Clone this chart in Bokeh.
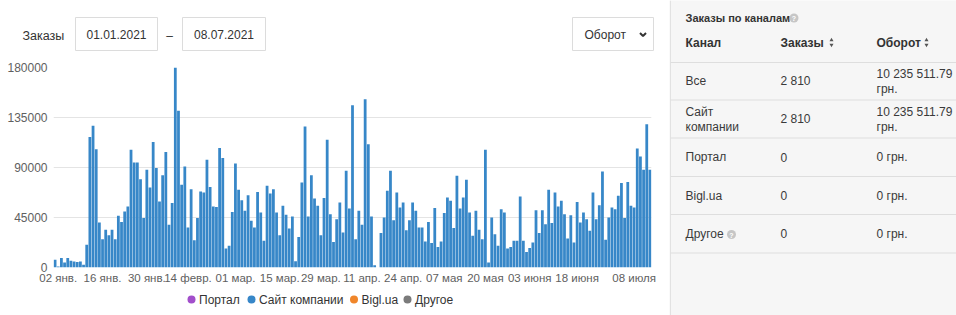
import datetime as dt
from bokeh.plotting import figure
from bokeh.models import Range1d, FixedTicker, NumeralTickFormatter
from bokeh.layouts import row, column
from bokeh.embed import file_html
from bokeh.resources import INLINE
from bokeh.core.properties import value

# ---------------- data ----------------
# one bar per reported day (days without a bar are absent from the category list)
missing_days = ["2021-02-06", "2021-02-07", "2021-03-28", "2021-06-26", "2021-06-27"]
first_day, last_day = "2021-01-01", "2021-07-13"
revenue = [
    7000, 1000, 8500, 4500, 8500, 6000, 5500, 5000, 5500, 2500,
    20500,
    117500, 127500, 106500, 40500, 25500, 34000, 29000, 34000, 25500, 46500,
    41000, 50500, 55000, 106000, 94500, 94500, 79500, 44500, 88000, 72000,
    113000, 89500, 59500, 83000, 104000, 38500, 58000,
    180000,
    141000, 74500, 91000, 36000, 70500, 24500, 44500, 68500, 67500, 97000,
    72500, 55000, 54500, 107500, 98500, 17000, 19500, 50000, 93500, 70000,
    60500, 51000, 65000, 42000, 36000, 68000, 49500, 24000, 73500, 66500,
    70500, 49500, 29000, 55500, 47500, 35000, 46000, 5700, 27500, 76500,
    127000, 46000, 83000, 62000, 55500, 29000, 62500, 115000, 48000, 23000,
    43500, 58500, 31500, 87000, 53000,
    146000, 25500, 51000, 38500,
    151500, 111000, 46000, 2000, 0,
    31000, 45000, 69000, 87000, 42500, 67500, 54000, 58500, 33500, 42500,
    58500, 51000, 36000, 36000, 23500, 41000, 22000, 53500, 18500, 23500,
    49000, 63000, 60000, 35500, 82500, 53000, 63000, 79000, 49500, 28500,
    51000, 34000, 25500,
    106000, 4500, 45000, 30000, 19500,
    52500, 49500, 17000, 18500, 24000, 24000, 64000, 24000, 14000, 17500,
    22500, 51500, 31000, 51500, 39000, 70000, 40000, 67500, 55000, 60000,
    48000, 26000, 47000, 22500, 59000, 40500, 49500, 43500, 33000, 67500,
    43500, 56000, 86500, 25000, 45000, 54000, 52500, 64500, 76000, 44500,
    77000, 55500, 54000, 107000, 100000, 88000, 129000, 88000,
]
tick_dates = ["2021-01-02", "2021-01-16", "2021-01-30", "2021-02-14", "2021-03-01",
              "2021-03-15", "2021-03-29", "2021-04-11", "2021-04-24", "2021-05-07",
              "2021-05-20", "2021-06-03", "2021-06-18", "2021-07-08"]
tick_labels = ["02 янв.", "16 янв.", "30 янв.", "14 февр.", "01 мар.", "15 мар.",
               "29 мар.", "11 апр.", "24 апр.", "07 мая", "20 мая", "03 июня",
               "18 июня", "08 июля"]
y_ticks = [0, 45000, 90000, 135000, 180000]

series_names = ["Портал", "Сайт компании", "Bigl.ua", "Другое"]
series_colors = ["#a24fcb", "#3787c8", "#f0862a", "#7b7b7b"]

channels = ["Все", "Сайт компании", "Портал", "Bigl.ua", "Другое"]
orders = ["2 810", "2 810", "0", "0", "0"]
turnover = ["10 235 511.79 грн.", "10 235 511.79 грн.", "0 грн.", "0 грн.", "0 грн."]
table_title = "Заказы по каналам"
table_headers = ["Канал", "Заказы", "Оборот"]

page_title = "Заказы"
date_from = "01.01.2021"
date_to = "08.07.2021"
metric = "Оборот"

# categories (dates) of the bars
d0 = dt.date.fromisoformat(first_day)
d1 = dt.date.fromisoformat(last_day)
categories = []
d = d0
while d <= d1:
    if d.isoformat() not in missing_days:
        categories.append(d.isoformat())
    d += dt.timedelta(days=1)
assert len(categories) == len(revenue)

# ---------------- styles ----------------
FONT = "Liberation Sans"
TXT = "#333333"
LEFT_W, RIGHT_W = 669, 287
HEAD_H, CHART_H, LEG_H = 58, 232, 25
PANEL_BG = "#f6f6f6"
LINE = "#dedede"


def canvas(w, h, bg):
    f = figure(width=w, height=h, x_range=Range1d(0, w), y_range=Range1d(h, 0),
               x_axis_type=None, y_axis_type=None, toolbar_location=None,
               output_backend="svg", min_border=0, frame_align=False,
               background_fill_color=bg, border_fill_color=bg)
    f.outline_line_color = None
    f.grid.visible = False
    return f


def txt(f, x, y, s, size="12px", color=TXT, align="left", bold=False):
    f.text(x=[x], y=[y], text=[s], text_font=value(FONT), text_font_size=size,
           text_color=color, text_align=align, text_baseline="middle",
           text_font_style="bold" if bold else "normal")


def wrap(s, limit):
    if len(s) > limit and " " in s:
        i = s.rfind(" ")
        return [s[:i], s[i + 1:]]
    return [s]


# ---------------- header ----------------
head = canvas(LEFT_W, HEAD_H, "white")
txt(head, 22, 35, page_title, size="12.5px")
head.quad(left=[75, 182, 572], right=[157, 265, 653], top=[17, 17, 17], bottom=[50, 50, 50],
          fill_color="white", line_color="#dcdcdc", line_width=1)
txt(head, 116, 34, date_from, align="center")
txt(head, 169, 35, "–", align="center")
txt(head, 223.5, 34, date_to, align="center")
txt(head, 584, 34, metric)
head.line(x=[639.5, 642.5, 645.5], y=[32.5, 35.5, 32.5], line_color=TXT, line_width=2)

# ---------------- chart ----------------
n = len(categories)
tick_pos = [categories.index(t) for t in tick_dates]
p = figure(width=LEFT_W, height=CHART_H, x_range=Range1d(-0.5, n - 0.5),
           y_range=Range1d(0, 180000), toolbar_location=None, output_backend="svg",
           min_border_left=53, min_border_right=18, min_border_top=9, min_border_bottom=23,
           frame_align=False)
p.vbar(x=list(range(n)), top=revenue, width=0.88, fill_color=series_colors[1], line_color=None)
p.xaxis.ticker = FixedTicker(ticks=tick_pos)
p.xaxis.major_label_overrides = {t: l for t, l in zip(tick_pos, tick_labels)}
p.yaxis.ticker = FixedTicker(ticks=y_ticks)
p.yaxis.formatter = NumeralTickFormatter(format="0")
for ax in (p.xaxis, p.yaxis):
    ax.axis_line_color = None
    ax.major_tick_line_color = None
    ax.minor_tick_line_color = None
    ax.major_tick_out = 0
    ax.major_tick_in = 0
    ax.major_label_text_font = FONT
    ax.major_label_text_color = "#606060"
p.xaxis.major_label_text_font_size = "11.5px"
p.yaxis.major_label_text_font_size = "12px"
p.xaxis.major_label_standoff = 4
p.yaxis.major_label_standoff = 6
p.xgrid.grid_line_color = None
p.ygrid.grid_line_color = "#e4e4e4"
p.outline_line_color = None

# ---------------- legend ----------------
leg = canvas(LEFT_W, LEG_H, "white")
leg_x = [191, 251, 353.5, 407]
for name, col, lx in zip(series_names, series_colors, leg_x):
    leg.scatter(x=[lx], y=[9], size=8, marker="circle", fill_color=col, line_color=None)
    txt(leg, lx + 7.5, 9.5, name)

# ---------------- right table ----------------
H = HEAD_H + CHART_H + LEG_H
tb = canvas(RIGHT_W, H, PANEL_BG)
tb.line(x=[1, 1], y=[0, H], line_color="#e2e2e2", line_width=1)
col_x = [16, 111, 207]
txt(tb, col_x[0], 17, table_title, size="11px", bold=True)
tb.scatter(x=[124.5], y=[17.5], size=9, marker="circle", fill_color="#c6c6c6", line_color=None)
txt(tb, 124.5, 18, "?", size="7px", color="white", align="center", bold=True)
for hx, h in zip(col_x, table_headers):
    txt(tb, hx, 42, h, bold=True)
for sx in (162, 257):
    tb.scatter(x=[sx], y=[39.5], size=4, marker="triangle", fill_color="#555", line_color=None)
    tb.scatter(x=[sx], y=[44.5], size=4, marker="inverted_triangle", fill_color="#555", line_color=None)
row_edges = [62, 99.5, 137.5, 176, 214, 252.5]
tb.multi_line(xs=[[1, RIGHT_W]] * len(row_edges), ys=[[y, y] for y in row_edges],
              line_color=LINE, line_width=1)
for i, (ch, od, tv) in enumerate(zip(channels, orders, turnover)):
    cy = (row_edges[i] + row_edges[i + 1]) / 2
    for cx, s, lim in ((col_x[0], ch, 10), (col_x[1], od, 20), (col_x[2], tv, 14)):
        lines = wrap(s, lim)
        for k, ln in enumerate(lines):
            yy = cy + (k - (len(lines) - 1) / 2) * 15
            txt(tb, cx, yy, ln, color="#3a3a3a")
tb.scatter(x=[62], y=[234], size=9, marker="circle", fill_color="#c6c6c6", line_color=None)
txt(tb, 62, 234.5, "?", size="7px", color="white", align="center", bold=True)

layout = row(column(head, p, leg), tb)
open("out.html", "w").write(file_html(layout, INLINE))
